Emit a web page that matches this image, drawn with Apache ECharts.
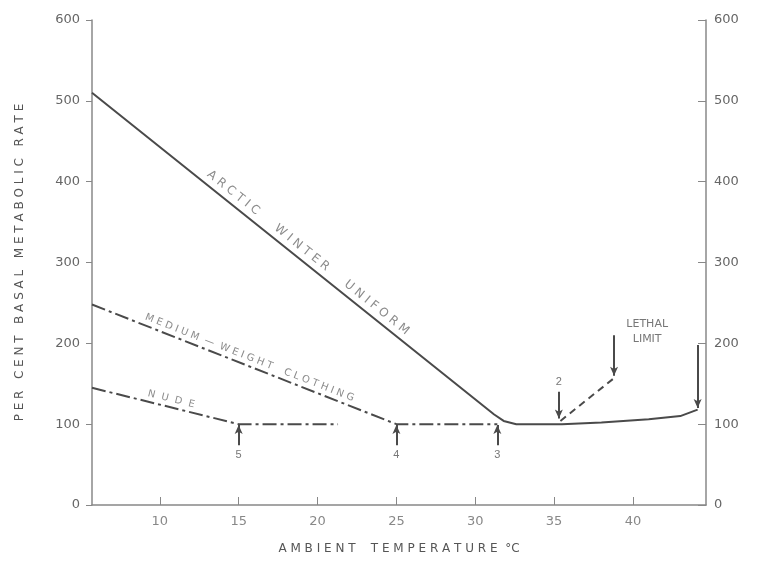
<!doctype html>
<html>
    <head>
        <meta charset="utf-8">
        <title>Metabolic rate vs ambient temperature</title>
        <script src="https://cdn.jsdelivr.net/npm/echarts@6/dist/echarts.min.js"></script>
        <style>
            html, body { margin: 0; padding: 0; background: #fff; }
            #main { width: 762px; height: 562px; }
        </style>
    </head>
    <body>
        <div id="main"></div>
        <script>
            // values (x = ambient temp °C, y = % basal rate)
            var xTicks = [10, 15, 20, 25, 30, 35, 40];
            var arcticX = [5.7, 31.2, 31.8, 32.6, 35.5, 38, 41, 43, 44.1];
            var arcticY = [510, 112, 104, 100, 100, 102, 106, 110, 118];
            var mediumX = [5.7, 25, 31.4];
            var mediumY = [248, 100, 100];
            var nudeX = [5.7, 15, 21.3];
            var nudeY = [145, 100, 100];
            var strainX = [35.4, 38.8];
            var strainY = [104, 157];

            // numbered markers: x, arrow from, arrow to, label
            var markX = [15, 25, 31.4, 35.3];
            var markFrom = [74, 74, 74, 140];
            var markTo = [99, 99, 99, 107];
            var markText = ['5', '4', '3', '2'];

            var ink = '#4a4a4a';
            var faint = '#8c8c8c';

            function pairs(xs, ys) {
                return xs.map(function (x, i) { return [x, ys[i]]; });
            }

            function lineLabel(from, to, text, dist, size) {
                return [
                    { coord: from, lineStyle: { color: 'rgba(0,0,0,0)', width: 0 },
                      label: { show: true, position: 'insideMiddleTop', distance: dist,
                               formatter: text, color: faint, fontSize: size,
                               fontFamily: 'DejaVu Sans' } },
                    { coord: to }
                ];
            }

            var arrows = markX.map(function (x, i) {
                return [
                    { coord: [x, markFrom[i]],
                      label: { show: true, position: 'start', formatter: markText[i],
                               color: '#777', fontSize: 11, distance: 4 } },
                    { coord: [x, markTo[i]] }
                ];
            });

            var chart = echarts.init(document.getElementById('main'), null, { devicePixelRatio: 1 });

            var axisText = { color: '#666', fontSize: 13, fontFamily: 'DejaVu Sans' };

            chart.setOption({
                animation: false,
                backgroundColor: '#fff',
                grid: { left: 92, right: 56, top: 20, bottom: 57 },
                xAxis: {
                    type: 'value',
                    min: 5.7,
                    max: 44.63,
                    name: 'A M B I E N T    T E M P E R A T U R E  °C',
                    nameLocation: 'middle',
                    nameGap: 38,
                    nameTextStyle: { color: '#555', fontSize: 12, fontFamily: 'DejaVu Sans' },
                    axisLine: { lineStyle: { color: '#888', width: 1.5 } },
                    axisTick: { inside: true, length: 8, customValues: xTicks, lineStyle: { color: '#888' } },
                    axisLabel: Object.assign({ customValues: xTicks, margin: 10 }, axisText, { color: '#888' }),
                    splitLine: { show: false }
                },
                yAxis: [{
                    type: 'value',
                    min: 0,
                    max: 600,
                    interval: 100,
                    position: 'left',
                    name: 'P E R   C E N T   B A S A L   M E T A B O L I C   R A T E',
                    nameLocation: 'middle',
                    nameRotate: 90,
                    nameGap: 66,
                    nameTextStyle: { color: '#555', fontSize: 12, fontFamily: 'DejaVu Sans' },
                    axisLine: { show: true, lineStyle: { color: '#888', width: 1.5 } },
                    axisTick: { show: true, length: 6, lineStyle: { color: '#888' } },
                    axisLabel: Object.assign({ margin: 12 }, axisText),
                    splitLine: { show: false }
                }, {
                    type: 'value',
                    min: 0,
                    max: 600,
                    interval: 100,
                    position: 'right',
                    axisLine: { show: true, lineStyle: { color: '#888', width: 1.5 } },
                    axisTick: { show: true, inside: true, length: 8, lineStyle: { color: '#888' } },
                    axisLabel: Object.assign({ margin: 8 }, axisText),
                    splitLine: { show: false }
                }],
                series: [{
                    name: 'arctic',
                    type: 'line',
                    data: pairs(arcticX, arcticY),
                    symbol: 'none',
                    lineStyle: { color: ink, width: 2 },
                    markLine: {
                        silent: true,
                        symbol: 'none',
                        data: [lineLabel([12, 412], [26, 193], 'A R C T I C      W I N T E R      U N I F O R M', 4, 12)]
                    }
                }, {
                    name: 'medium',
                    type: 'line',
                    data: pairs(mediumX, mediumY),
                    symbol: 'none',
                    lineStyle: { color: ink, width: 2, type: [14, 4, 3, 4] },
                    markLine: {
                        silent: true,
                        symbol: 'none',
                        data: [lineLabel([8, 230.4], [23, 115.4], 'M E D I U M  —  W E I G H T    C L O T H I N G', 3, 10)]
                    }
                }, {
                    name: 'nude',
                    type: 'line',
                    data: pairs(nudeX, nudeY),
                    symbol: 'none',
                    lineStyle: { color: ink, width: 2, type: [14, 4, 3, 4] },
                    markLine: {
                        silent: true,
                        symbol: 'none',
                        data: [lineLabel([7.6, 135.8], [13.6, 106.8], 'N  U  D  E', 3, 10)]
                    }
                }, {
                    name: 'strain',
                    type: 'line',
                    data: pairs(strainX, strainY),
                    symbol: 'none',
                    lineStyle: { color: ink, width: 2, type: [7, 5] },
                    markLine: {
                        silent: true,
                        symbol: ['none', 'arrow'],
                        symbolSize: [6, 9],
                        lineStyle: { color: ink, width: 2, type: 'solid' },
                        label: { show: false },
                        data: arrows.concat([
                            [{ coord: [38.8, 210] }, { coord: [38.8, 160] }],
                            [{ coord: [44.1, 198] }, { coord: [44.1, 120] }]
                        ])
                    },
                    markPoint: {
                        silent: true,
                        symbol: 'circle',
                        symbolSize: 0,
                        data: [{
                            coord: [40.9, 214],
                            label: { show: true, formatter: 'LETHAL\nLIMIT', color: '#777',
                                     fontSize: 11, lineHeight: 15, fontFamily: 'DejaVu Sans' }
                        }]
                    }
                }]
            });

            window.onresize = chart.resize;
        </script>
    </body>
</html>
